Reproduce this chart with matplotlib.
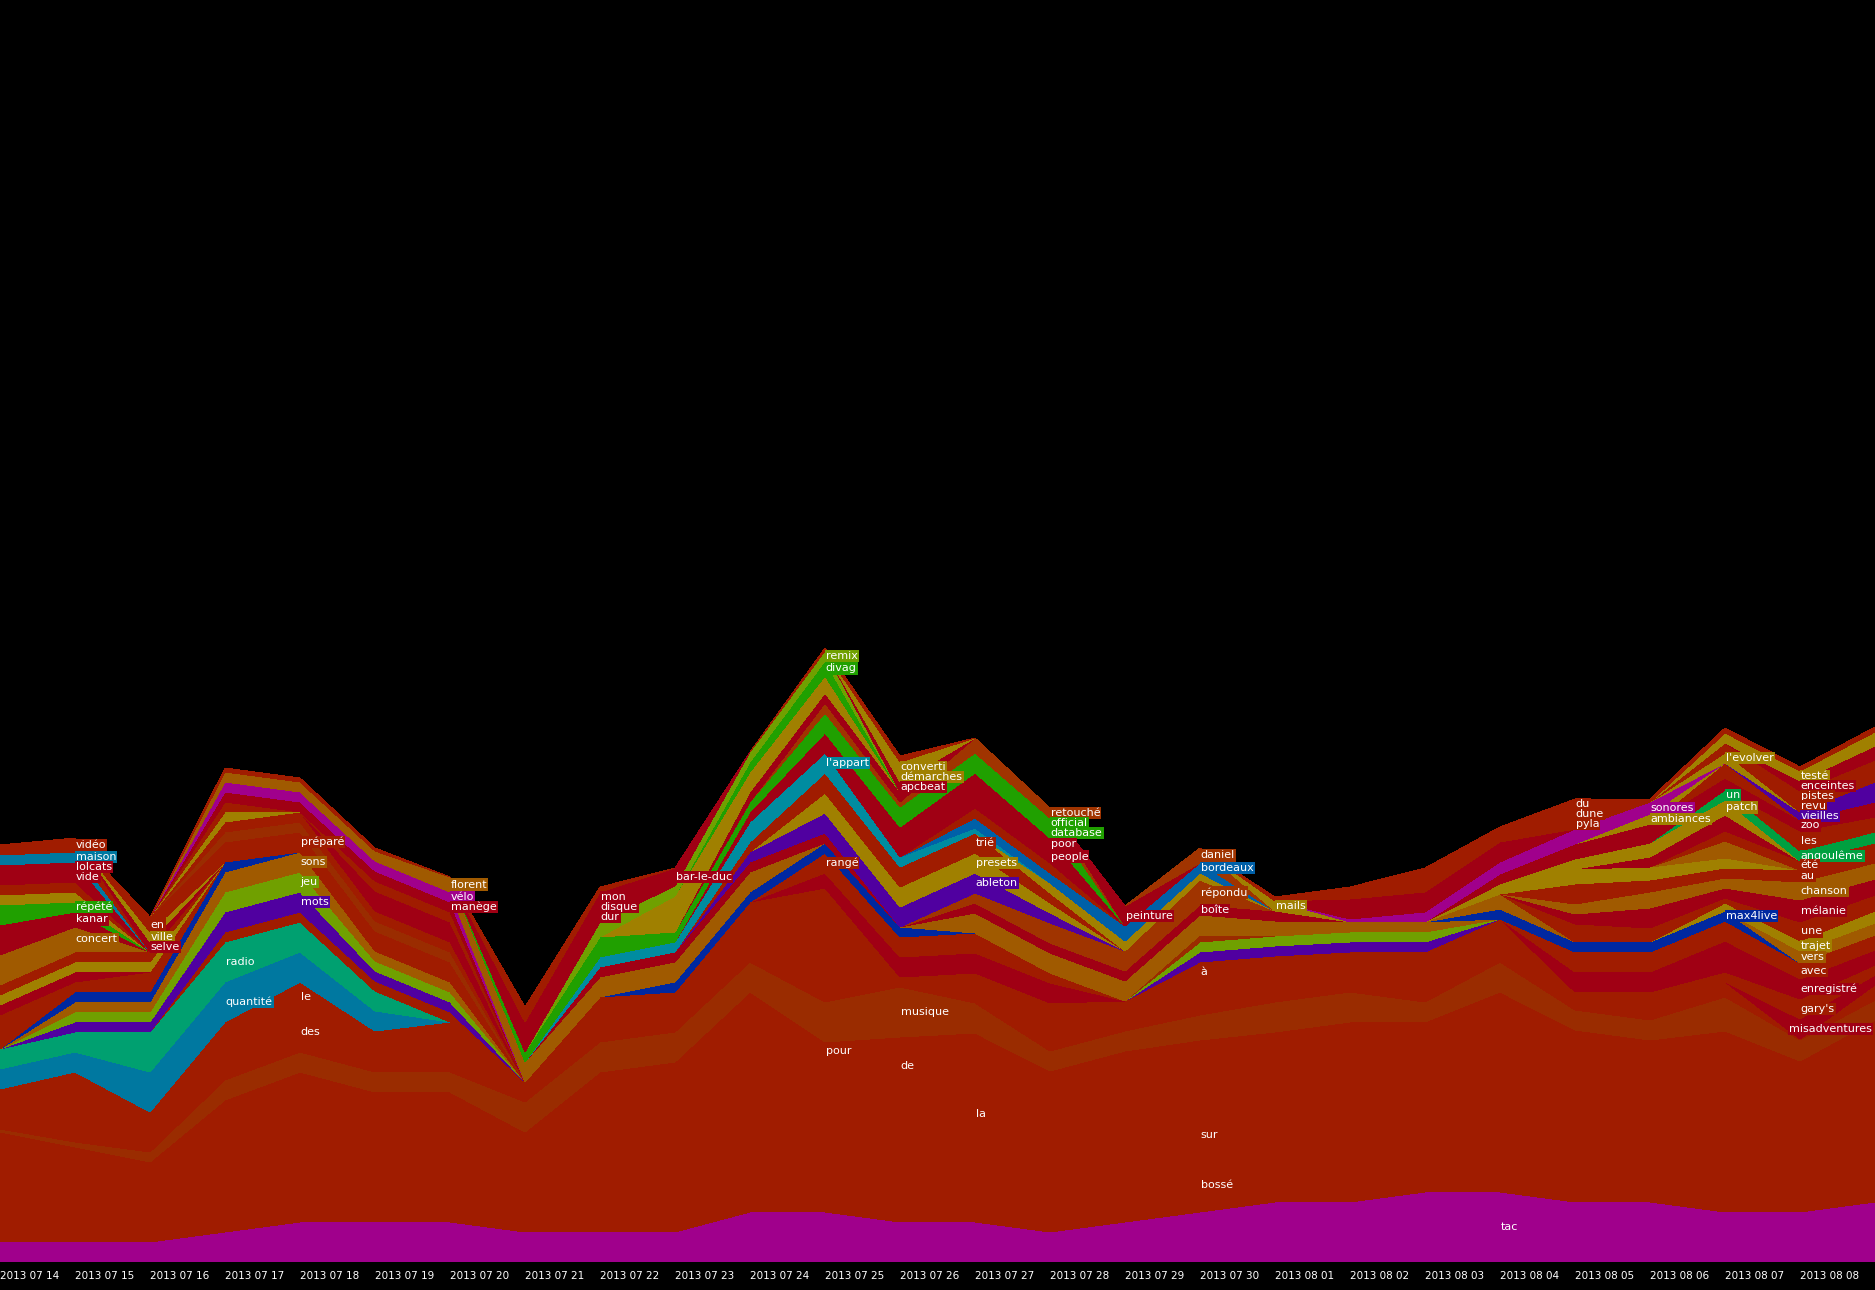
import numpy as np
import matplotlib
matplotlib.use("Agg")
import matplotlib.pyplot as plt

# days of the journal (last one sits on the right edge, no room for its label)
days = ["2013 07 14", "2013 07 15", "2013 07 16", "2013 07 17", "2013 07 18",
        "2013 07 19", "2013 07 20", "2013 07 21", "2013 07 22", "2013 07 23",
        "2013 07 24", "2013 07 25", "2013 07 26", "2013 07 27", "2013 07 28",
        "2013 07 29", "2013 07 30", "2013 08 01", "2013 08 02", "2013 08 03",
        "2013 08 04", "2013 08 05", "2013 08 06", "2013 08 07", "2013 08 08",
        "2013 08 09"]

#colours
M = "#a0008c"
R = "#a01c00"
O = "#9a2c00"
C = "#a00014"
RB = "#a03400"
B = "#a05a00"
Y = "#a08000"
YG = "#70a000"
G = "#20a000"
GN = "#00a040"
TG = "#00a070"
QB = "#0078a0"
CY = "#008ca0"
BL = "#0060a8"
DB = "#0028a0"
P = "#5000a0"

# word, colour, first day, counts from that day, day of the label
base_layers = [
    ("tac", M, 0, [2, 2, 2, 3, 4, 4, 4, 3, 3, 3, 5, 5, 4, 4, 3, 4, 5, 6, 6, 7, 7, 6, 6, 5, 5, 6], 20),
    ("bossé", R, 0, [3.3, 2.9, 2.4, 4, 4.5, 3.9, 3.9, 3, 4.8, 5.1, 6.6, 3.7, 4.2, 4, 4.8, 5.1, 5.4, 5.1, 5.4, 5.1, 6, 5.2, 4.9, 5.4, 4.5, 5.5], 16),
    ("sur", R, 0, [2.8, 2.4, 2, 3.3, 3.8, 3.3, 3.3, 2.5, 4, 4.3, 5.5, 4, 4, 3, 4, 4.3, 4.6, 4.3, 4.5, 4.3, 5, 4.3, 4, 4.5, 3.8, 4.5], 16),
    ("la", R, 0, [2.7, 2.4, 2, 3.3, 3.7, 3.2, 3.2, 2.5, 4, 4.2, 5.5, 5, 6, 7.6, 4, 4.3, 3, 4.2, 4.5, 4.2, 5, 4.3, 4, 4.5, 3.8, 4.5], 13),
    ("de", R, 0, [1.3, 1.1, 1, 1.6, 1.8, 1.6, 1.6, 1.2, 1.9, 2, 2.6, 2.5, 2.8, 3, 2, 2, 2.5, 2, 2.2, 2, 2.4, 2, 2, 2.2, 1.8, 2.2], 12),
    ("pour", R, 0, [0.9, 0.7, 0.6, 1, 1.2, 1, 1, 0.8, 1.3, 1.4, 1.8, 1.8, 1.5, 1.3, 1.3, 1.4, 1.7, 1.4, 1.4, 1.4, 1.6, 1.4, 1.3, 1.5, 1.2, 1.5], 11),
    ("musique", O, 0, [0.3, 0.5, 1, 2, 2, 2, 2, 3, 3, 3, 3, 4, 5, 3, 2, 2, 2.5, 3, 3, 2, 3, 2, 2, 3.4, 2.1, 2], 12),
    ("des", R, 0, [2, 3.5, 2, 3, 4, 2.1, 2.5, 1, 2.5, 2, 3, 5.3, 0.2, 1.4, 2, 1.2, 1.8, 1.6, 1.6, 2, 1.8, 0.8, 0.6, 0.6, 0.1, 0.6], 4),
    ("le", R, 0, [2, 3.5, 2, 2.8, 3, 2, 2.5, 1, 1.5, 1.5, 2, 4.4, 0.5, 1, 1.8, 1, 1.5, 1.5, 1.2, 1.5, 1.3, 0.5, 0.5, 0.5, 0, 0.5], 4),
    ("à", R, 0, [0, 0, 0, 0, 0, 0, 0, 0, 0.5, 0.5, 1, 1.7, 0.3, 0.6, 1, 0.8, 2, 1.5, 1.2, 1.5, 1.2, 0.5, 0.4, 0.4, 0, 0.4], 16),
]

left_layers = [
    ("quantité", QB, 0, [2, 2, 4, 4, 3, 2], 3),
    ("radio", TG, 0, [2, 2, 4, 4, 3, 2], 3),
    ("", R, 3, [1, 1, 1, 1], None),
    ("mots", P, 1, [1, 1, 2, 2, 1, 1], 4),
    ("jeu", YG, 1, [1, 1, 2, 2, 1, 1], 4),
    ("sons", B, 1, [1, 1, 2, 2, 1, 1], 4),
    ("", DB, 1, [1, 1, 1], None),
    ("", R, 0, [3.4, 1, 2], None),
    ("", C, 0, [1, 1], None),
    ("", Y, 0, [1, 1, 1], None),
    ("", R, 0, [1, 1, 1], None),
    ("concert", B, 0, [3, 2.5], 1),
    ("kanar", C, 0, [3, 1.5], 1),
    ("répété", G, 0, [2, 1], 1),
    ("", Y, 0, [1, 1], None),
    ("", R, 0, [1, 1], None),
    ("vide", C, 0, [1, 1], 1),
    ("lolcats", C, 0, [1, 1], 1),
    ("maison", QB, 0, [1, 1], 1),
    ("vidéo", R, 0, [1, 1.4], 1),
    ("selve", C, 2, [1], 2),
    ("ville", Y, 2, [1], 2),
    ("en", R, 2, [1.5], 2),
    ("préparé", R, 3, [2, 2, 2, 2], 4),
    ("", O, 3, [1, 1, 1, 1], None),
    ("", R, 3, [1, 1, 1, 1], None),
    ("", Y, 3, [1], None),
    ("", R, 3, [1], None),
    ("", C, 5, [2, 2], None),
    ("", R, 5, [1, 1], None),
    ("manège", C, 3, [1, 1, 1, 1], 6),
    ("vélo", M, 3, [1, 1, 1, 1], 6),
    ("florent", B, 3, [1, 1, 1, 1.5], 6),
]

mid_layers = [
    ("", C, 11, [1.5, 2, 2, 2], None),
    ("rangé", R, 11, [2, 2, 2, 1], 11),
    ("", DB, 9, [1, 1, 1, 1], None),
    ("", B, 7, [2, 2, 2, 2], None),
    ("", C, 8, [1, 1, 1, 1], None),
    ("", P, 16, [1, 1, 1, 1], None),
    ("", YG, 16, [1, 1, 1, 1], None),
    ("", O, 16, [0.7], None),
    ("", B, 13, [2, 2, 2, 2, 1.5, 1, 1], None),
    ("boîte", C, 13, [1, 1, 1, 1, 1], 16),
    ("répondu", RB, 13, [1, 2, 2, 2.5], 16),
    ("ableton", P, 10, [1, 2, 2, 2, 1], 13),
    ("presets", Y, 11, [2, 2, 2, 1], 13),
    ("trié", R, 10, [1, 2, 2, 2, 1], 13),
    ("", Y, 14, [1, 1, 0.7], None),
    ("l'appart", CY, 8, [1, 1, 2, 2, 1, 0.5], 11),
    ("bordeaux", BL, 13, [1, 1, 1.5, 1], 16),
    ("", R, 13, [1, 1], None),
    ("people", C, 10, [0.5, 1, 1.5, 1.8, 1.3], 14),
    ("poor", C, 10, [0.5, 1, 1.5, 1.7, 1.2], 14),
    ("database", G, 7, [1, 1, 0.5, 0.5, 1, 1, 1, 1], 14),
    ("official", G, 8, [1, 0.5, 0.5, 1, 1, 1, 1], 14),
    ("retouché", RB, 11, [1, 0.5, 1.5, 1], 14),
    ("peinture", C, 15, [2], 15),
    ("daniel", RB, 16, [1.5], 16),
    ("mails", Y, 17, [1], 17),
    ("", C, 10, [1, 1, 1], None),
    ("", Y, 9, [3.6, 2, 1.7], None),
    ("divag", G, 10, [1, 1.5], 11),
    ("remix", YG, 8, [1.5, 1, 1, 1], 11),
    ("apcbeat", C, 12, [1], 12),
    ("démarches", Y, 12, [1], 12),
    ("converti", Y, 12, [1], 12),
    ("dur", C, 7, [1, 1], 8),
    ("disque", C, 7, [1, 1], 8),
    ("mon", C, 7, [1, 1], 8),
    ("bar-le-duc", C, 9, [1.8], 9),
]

right_layers = [
    ("misadventures", C, 24, [2, 1], 24),
    ("gary's", R, 22, [1.3, 1.0, 2, 1], 24),
    ("enregistré", C, 21, [2, 2, 3.1, 2, 1.5], 24),
    ("avec", R, 21, [2, 2, 2, 1.6, 1.5], 24),
    ("max4live", DB, 20, [1, 1, 1, 1], 23),
    ("vers", B, 24, [1.2, 1.2], 24),
    ("trajet", Y, 23, [0.8, 1, 1.2], 24),
    ("", B, 20, [1.5], None),
    ("une", R, 21, [1.8, 1.4, 0.5, 1.9, 1.6], 24),
    ("mélanie", C, 21, [1, 2, 1, 2.2, 1.6], 24),
    ("chanson", B, 21, [1, 1.6, 1, 1.8, 1.6], 24),
    ("au", R, 21, [2, 1.2, 1, 1.2, 1], 24),
    ("", Y, 20, [1, 1.5, 1.3, 1], None),
    ("", B, 23, [1.7], None),
    ("été", R, 23, [1, 0.9, 1], 24),
    ("", C, 22, [1, 1.6], None),
    ("patch", Y, 21, [1, 1.4, 1.5], 23),
    ("un", GN, 23, [1], 23),
    ("angoulême", GN, 24, [1, 1.1], 24),
    ("les", R, 24, [2, 1.5], 24),
    ("zoo", C, 20, [1, 1.5, 1.9, 1.2, 1.1, 1.5], 24),
    ("", R, 23, [1.5], None),
    ("ambiances", Y, 22, [1], 22),
    ("sonores", M, 18, [0.3, 1, 1.2, 1.5, 1.2], 22),
    ("vieilles", P, 24, [0.8, 2], 24),
    ("l'evolver", Y, 23, [1], 23),
    ("revu", R, 23, [1, 1.1, 1.5], 24),
    ("pistes", R, 24, [1, 0.7], 24),
    ("enceintes", C, 24, [1, 1.4], 24),
    ("testé", Y, 23, [1, 1, 1.4], 24),
    ("", C, 18, [2, 2, 2], None),
    ("pyla", R, 18, [0.4, 0.8, 0.5, 1, 0.1], 21),
    ("dune", R, 18, [0.4, 0.8, 0.5, 1, 0.1], 21),
    ("du", R, 18, [0.4, 0.8, 0.5, 1, 0.1], 21),
    ("", R, 0, [0, 0, 0, 0.4, 0.4, 0.3, 0, 1.5, 0.5, 0, 0, 0.3, 0.6, 0, 0, 0, 0, 0.4, 0, 0, 0, 0, 0, 0.5, 0.4, 0.5], None),
]


def pad(start, vals):
    row = np.zeros(len(days))
    row[start:start + len(vals)] = vals
    return row


layers = base_layers + left_layers + mid_layers + right_layers
x = np.arange(len(days))

fig = plt.figure(figsize=(18.75, 12.9), dpi=100, facecolor="black")
ax = fig.add_axes([0, 0, 1, 1])
ax.set_facecolor("black")
ax.set_xlim(0, len(days) - 1)
ax.set_ylim(-2.8, 126.2)
ax.axis("off")

# stack the layers one on another
bottom = np.zeros(len(days))
spots = {}
for word, colour, start, vals, lab in layers:
    v = pad(start, vals)
    top = bottom + v
    nz = v > 0
    show = nz | np.r_[nz[1:], False] | np.r_[False, nz[:-1]]
    ax.fill_between(x, bottom, top, where=show, facecolor=colour,
                    linewidth=0, antialiased=False)
    if lab is not None:
        spots.setdefault(lab, []).append(((bottom[lab] + top[lab]) / 2, word, colour))
    bottom = top

# word labels, pushed down a little when they would overlap
texts = []
for d, items in spots.items():
    items.sort(key=lambda t: -t[0])
    prev = None
    for y, word, colour in items:
        if prev is not None and y > prev - 0.95:
            y = prev - 0.95
        t = ax.text(d + 0.01, y, word, color="white", fontsize=8, ha="left", va="center",
                    bbox=dict(boxstyle="square,pad=0.1", fc=colour, ec="none"))
        texts.append(t)
        prev = y

# dates under the stream (the last day has no room on the canvas)
for i, d in enumerate(days[:-1]):
    ax.text(i, -1.4, d, color="white", fontsize=7.5, ha="left", va="center")

# labels running past the right edge are slid back inside
renderer = fig.canvas.get_renderer()
width_px = fig.get_figwidth() * fig.dpi
px_per_day = width_px / (len(days) - 1)
for t in texts:
    bb = t.get_window_extent(renderer)
    over = bb.x1 + 3 - width_px
    if over > 0:
        tx, ty = t.get_position()
        t.set_position((tx - over / px_per_day, ty))

fig.savefig("out.png", dpi=100, facecolor="black")
